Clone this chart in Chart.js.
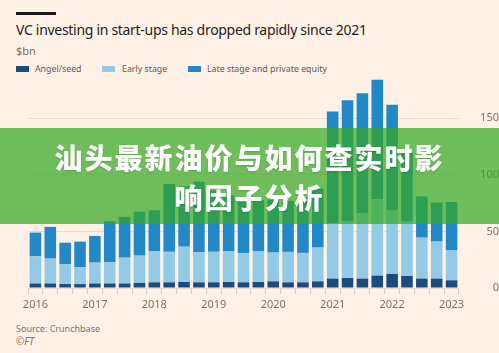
<!DOCTYPE html>
<html>
<head>
<meta charset="utf-8">
<script src="https://cdn.jsdelivr.net/npm/chart.js@4/dist/chart.umd.min.js"></script>
<style>
  html, body { margin: 0; padding: 0; }
  body { width: 499px; height: 353px; background: #FFF1E5; position: relative; overflow: hidden;
         font-family: "Noto Sans", "Open Sans", sans-serif; }
  .rule { position: absolute; left: 16px; top: 12px; width: 40px; height: 3px; background: #1a1817; }
  .title { position: absolute; left: 16px; top: 20px; font-size: 14px; letter-spacing: -0.3px; color: #1f1d1c; white-space: nowrap; }
  .unit { position: absolute; left: 16px; top: 43px; font-size: 11px; color: #7a726c; }
  .legend { position: absolute; left: 16px; top: 63px; font-size: 8.8px; color: #5e5853; white-space: nowrap; }
  .legend span { position: absolute; top: 0; }
  .legend i { position: absolute; top: 3px; width: 13px; height: 6px; }
  #wrap { position: absolute; left: 0; top: 60px; width: 499px; height: 260px; }
  .src { position: absolute; left: 16px; top: 322px; font-size: 9px; color: #7a726c; }
  .ft { position: absolute; left: 16px; top: 334px; font-size: 10px; color: #7a726c; font-style: italic; }
  .band { position: absolute; left: 0; top: 128px; width: 499px; height: 96px; background: rgba(51,168,33,0.7); }
  .band div { position: absolute; left: 0; width: 499px; text-align: center; color: #fff;
              font-family: "Noto Sans CJK SC", sans-serif; font-weight: 900; font-size: 28px;
              letter-spacing: 2px; text-shadow: 0 1px 2px rgba(0,0,0,0.15); }
</style>
</head>
<body>
<div class="rule"></div>
<div class="title">VC investing in start-ups has dropped rapidly since 2021</div>
<div class="unit">$bn</div>
<div class="legend">
  <i style="left:0;background:#1D4B80"></i><span style="left:19px">Angel/seed</span>
  <i style="left:86px;background:#93CBE6"></i><span style="left:106px">Early stage</span>
  <i style="left:172px;background:#2388C8"></i><span style="left:191px">Late stage and private equity</span>
</div>
<div id="wrap"><canvas id="c"></canvas></div>
<div class="src">Source: Crunchbase</div>
<div class="ft">©FT</div>
<div class="band">
  <div style="top:9px">汕头最新油价与如何查实时影</div>
  <div style="top:49px">响因子分析</div>
</div>
<script>
// quarters 2016 Q1 .. 2023 Q1
const quarters = [
  "2016 Q1","2016 Q2","2016 Q3","2016 Q4",
  "2017 Q1","2017 Q2","2017 Q3","2017 Q4",
  "2018 Q1","2018 Q2","2018 Q3","2018 Q4",
  "2019 Q1","2019 Q2","2019 Q3","2019 Q4",
  "2020 Q1","2020 Q2","2020 Q3","2020 Q4",
  "2021 Q1","2021 Q2","2021 Q3","2021 Q4",
  "2022 Q1","2022 Q2","2022 Q3","2022 Q4",
  "2023 Q1"
];
const angelSeed = [4, 4, 3.5, 3.5, 4, 4, 4, 4.5, 5, 5, 5.3, 5, 5, 5.3, 5, 5.3, 5.9, 5, 5, 5.9,
                   8.3, 8.8, 8.3, 10.9, 12.4, 10.6, 8.3, 8.3, 6.8];
const earlyStage = [24, 22, 17.5, 15, 18.4, 18.7, 22.8, 24.1, 27.7, 27, 31.2, 26.6, 27, 27.4, 25.7, 27.4, 25.4, 26.9, 26, 29.8,
                    49.2, 49.9, 57.7, 67.6, 56, 48.1, 36.2, 32.7, 26.8];
const lateStage = [21, 28, 19, 22.5, 23.6, 36.3, 36.2, 38.9, 36, 60, 53.5, 62.4, 54, 49.3, 45.3, 45.3, 46.7, 45.1, 49, 52.3,
                   98.5, 107.3, 106, 105.5, 93.6, 61.3, 36.5, 34.5, 42.4];
const yTicks = [0, 50, 100, 150];

const grey = "#7a726c";

new Chart(document.getElementById("c"), {
  type: "bar",
  data: {
    labels: quarters,
    datasets: [
      { label: "Angel/seed", data: angelSeed, backgroundColor: "#1D4B80" },
      { label: "Early stage", data: earlyStage, backgroundColor: "#93CBE6" },
      { label: "Late stage and private equity", data: lateStage, backgroundColor: "#2388C8" }
    ]
  },
  options: {
    responsive: true,
    maintainAspectRatio: false,
    animation: false,
    events: [],
    layout: { padding: { left: 28, top: 13, right: 0, bottom: 0 } },
    datasets: { bar: { categoryPercentage: 1, barPercentage: 0.78 } },
    plugins: { legend: { display: false }, tooltip: { enabled: false } },
    scales: {
      x: {
        stacked: true,
        grid: { drawOnChartArea: false, drawTicks: true, tickLength: 6, color: "#d9cdc2" },
        border: { display: false },
        ticks: {
          autoSkip: false, maxRotation: 0, padding: 4, color: grey,
          font: { family: "Noto Sans", size: 11 },
          callback: function (v, i) {
            const q = quarters[i];
            return q.endsWith("Q1") ? q.slice(0, 4) : "";
          }
        },
        afterFit: function (s) { s.height = 32; }
      },
      y: {
        stacked: true,
        position: "right",
        min: 0,
        max: 190,
        afterBuildTicks: function (s) { s.ticks = yTicks.map(v => ({ value: v })); },
        grid: { drawTicks: false, color: "#e8dccf" },
        border: { display: false },
        ticks: { crossAlign: "far", padding: 4, color: grey, font: { family: "Noto Sans", size: 11 } },
        afterFit: function (s) { s.width = 40; }
      }
    }
  }
});
</script>
</body>
</html>
